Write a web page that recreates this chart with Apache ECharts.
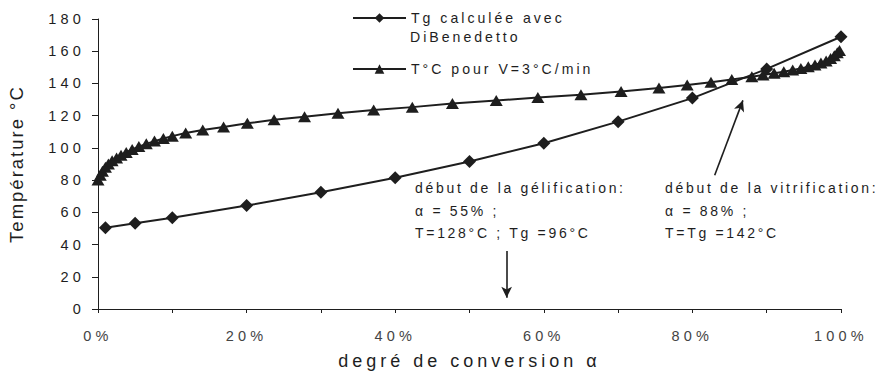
<!DOCTYPE html>
<html>
<head>
<meta charset="utf-8">
<script src="https://cdn.jsdelivr.net/npm/echarts@6/dist/echarts.min.js"></script>
<style>
html,body{margin:0;padding:0;background:#fff;}
#chart{width:881px;height:383px;}
#chart text{letter-spacing:3px;}
</style>
</head>
<body>
<div id="chart"></div>
<script>
// ---- data ----
const tgName = 'Tg calculée avec DiBenedetto';
const tName = 'T°C pour V=3°C/min';
const tgAlpha = [1, 5, 10, 20, 30, 40, 50, 60, 70, 80, 90, 100];
const tgValues = [50.5, 53.2, 56.7, 64.2, 72.4, 81.5, 91.5, 102.9, 116.3, 130.9, 149, 169];
const tAlpha = [0, 0.3, 0.6, 1.0, 1.4, 1.9, 2.5, 3.1, 3.8, 4.6, 5.5, 6.5, 7.6, 8.8, 10,
  11.8, 14.1, 16.9, 20.1, 23.7, 27.8, 32.3, 37.1, 42.3, 47.7, 53.6, 59.2, 65, 70.4, 75.5,
  79.3, 82.5, 85.3, 88, 89.5, 91, 92.3, 93.5, 94.6, 95.6, 96.5, 97.3, 98, 98.6, 99.1, 99.5, 99.8];
const tValues = [80, 83, 85.5, 88, 90, 92, 93.8, 95.5, 97.2, 99, 100.8, 102.5, 104.2, 105.8, 107.3,
  109.2, 111.1, 113, 115.3, 117.4, 119.4, 121.5, 123.5, 125.3, 127.5, 129.4, 131.2, 133, 135, 137.1,
  139, 140.8, 142.5, 144.2, 145.2, 146.3, 147.3, 148.3, 149.3, 150.4, 151.5, 152.7, 154, 155.5, 157.2, 159, 160.5];
const xLabelStep = 20;
const annotGel = ['début de la gélification:', 'α = 55% ;', 'T=128°C ; Tg =96°C'];
const annotVit = ['début de la vitrification:', 'α = 88% ;', 'T=Tg =142°C'];

const FONT = '"Liberation Sans", Arial, Helvetica, sans-serif';
const INK = '#1e1e1e';

const chart = echarts.init(document.getElementById('chart'), null, {renderer: 'svg'});

const option = {
  animation: false,
  backgroundColor: '#fff',
  textStyle: {fontFamily: FONT},
  grid: {left: 98, right: 40, top: 19, bottom: 74, containLabel: false, outerBoundsMode: 'none'},
  legend: [
    {
      data: [tgName], left: 352, top: 11, padding: 0, orient: 'vertical',
      itemWidth: 53, itemHeight: 12, itemGap: 5,
      formatter: () => 'Tg calculée avec',
      textStyle: {fontSize: 14.1, color: INK, fontFamily: FONT, lineHeight: 14},
      selectedMode: false
    },
    {
      data: [tName], left: 352, top: 62, padding: 0, orient: 'vertical',
      itemWidth: 53, itemHeight: 12, itemGap: 5,
      textStyle: {fontSize: 14.1, color: INK, fontFamily: FONT, lineHeight: 14},
      selectedMode: false
    }
  ],
  xAxis: {
    type: 'value', min: 0, max: 100, interval: 10,
    name: 'degré de conversion α', nameLocation: 'middle', nameGap: 43,
    nameTextStyle: {fontSize: 18, color: INK, fontFamily: FONT},
    axisLine: {show: true, onZero: false, lineStyle: {color: INK, width: 1}},
    axisTick: {show: true, inside: false, length: 4, lineStyle: {color: INK}},
    axisLabel: {
      margin: 19, fontSize: 14.5, color: '#444', fontFamily: FONT,
      formatter: v => (v % xLabelStep === 0 ? v + '%' : '')
    },
    splitLine: {show: false}
  },
  yAxis: {
    type: 'value', min: 0, max: 180, interval: 20,
    name: 'Température °C', nameLocation: 'middle', nameGap: 72,
    nameTextStyle: {fontSize: 18.5, color: INK, fontFamily: FONT},
    axisLine: {show: true, lineStyle: {color: INK, width: 1}},
    axisTick: {show: true, inside: false, length: 6, lineStyle: {color: INK}},
    axisLabel: {margin: 13, fontSize: 14.5, color: INK, fontFamily: FONT},
    splitLine: {show: false}
  },
  graphic: [
    {type: 'text', left: 410, top: 30, style: {text: 'DiBenedetto', font: '14.1px ' + FONT, fill: INK}},
    {type: 'text', left: 415, top: 177, style: {text: annotGel.join('\n'), font: '14px ' + FONT, lineHeight: 22.5, fill: INK}},
    {type: 'text', left: 665, top: 177, style: {text: annotVit.join('\n'), font: '14px ' + FONT, lineHeight: 22.5, fill: INK}}
  ],
  series: [
    {
      name: tName, type: 'line',
      data: tAlpha.map((a, i) => [a, tValues[i]]),
      symbol: 'triangle', symbolSize: [13, 11], showSymbol: true,
      lineStyle: {color: INK, width: 2}, itemStyle: {color: INK, borderWidth: 0},
      emphasis: {disabled: true}, z: 2
    },
    {
      name: tgName, type: 'line',
      data: tgAlpha.map((a, i) => [a, tgValues[i]]),
      symbol: 'diamond', symbolSize: 13, showSymbol: true,
      lineStyle: {color: INK, width: 2}, itemStyle: {color: INK, borderWidth: 0},
      emphasis: {disabled: true}, z: 3,
      markLine: {
        silent: true, animation: false,
        symbol: ['none', 'arrow'], symbolSize: [8, 11],
        label: {show: false},
        lineStyle: {color: INK, width: 1.6, type: 'solid'},
        data: [
          [{coord: [55, 36]}, {coord: [55, 7]}],
          [{coord: [83, 83]}, {coord: [86.8, 129.5]}]
        ]
      }
    }
  ]
};
chart.setOption(option);

function applySpacing() {
  document.querySelectorAll('#chart text').forEach(t => {
    const fs = parseFloat(getComputedStyle(t).fontSize);
    let ls = 2.7;
    if (fs >= 18.3) ls = 2;
    else if (fs >= 17) ls = 4;
    else if (fs > 14.3) ls = 4.2;
    else if (fs > 14.05) ls = 3;
    t.style.letterSpacing = ls + 'px';
  });
}
applySpacing();
chart.on('finished', applySpacing);
setTimeout(applySpacing, 50);
</script>
</body>
</html>
